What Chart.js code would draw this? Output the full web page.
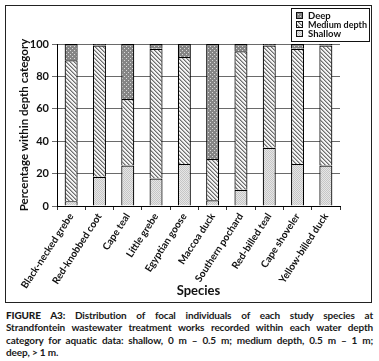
<!DOCTYPE html>
<html>
<head>
<meta charset="utf-8">
<script src="https://cdn.jsdelivr.net/npm/chart.js@4"></script>
<style>
  html, body { margin: 0; padding: 0; background: #fff; }
  body { width: 379px; height: 361px; position: relative; overflow: hidden; font-family: Lato, "Open Sans", sans-serif; }
  #frame { position: absolute; left: 5px; top: 5px; width: 367px; height: 298px; border: 1px solid #222; box-sizing: border-box; }
  #wrap { position: absolute; left: 0; top: 0; width: 365px; height: 296px; }
  #caption { position: absolute; left: 6px; top: 309px; width: 367px; font-size: 10px; line-height: 12.3px; font-weight: 700; color: #1a1a1a; letter-spacing: -0.15px; }
  #caption .ln { text-align: justify; text-align-last: justify; white-space: nowrap; }
  #caption .last { text-align: left; }
  #caption b { font-weight: 900; }
</style>
</head>
<body>
<div id="frame"><div id="wrap"><canvas id="c"></canvas></div></div>
<div id="caption">
  <div class="ln"><b>FIGURE A3:</b> Distribution of focal individuals of each study species at</div>
  <div class="ln">Strandfontein wastewater treatment works recorded within each water depth</div>
  <div class="ln">category for aquatic data: shallow, 0 m – 0.5 m; medium depth, 0.5 m – 1 m;</div>
  <div class="last">deep, &gt; 1 m.</div>
</div>
<script>
const categories = ["Black-necked grebe", "Red-knobbed coot", "Cape teal", "Little grebe", "Egyptian goose", "Maccoa duck", "Southern pochard", "Red-billed teal", "Cape shoveler", "Yellow-billed duck"];
const shallow = [3, 18, 25, 17, 26, 3.5, 10, 36, 26, 25];
const medium  = [87, 81, 41, 80, 66, 25.5, 85.5, 63, 71, 74];
const deep    = [10, 1, 34, 3, 8, 71, 4.5, 1, 3, 1];
const yTicks = [0, 20, 40, 60, 80, 100];

function makePattern(draw, size) {
  const c = document.createElement('canvas');
  c.width = size; c.height = size;
  const g = c.getContext('2d');
  draw(g);
  return g.createPattern(c, 'repeat');
}
const deepPat = makePattern(g => {
  g.fillStyle = '#858585'; g.fillRect(0, 0, 4, 4);
  g.fillStyle = '#d9d9d9'; g.fillRect(0, 0, 1, 1); g.fillRect(2, 2, 1, 1);
}, 4);
const medPat = makePattern(g => {
  g.fillStyle = '#f4f4f4'; g.fillRect(0, 0, 4, 4);
  g.fillStyle = '#6e6e6e';
  for (let i = 0; i < 4; i++) g.fillRect(i, i, 1, 1);
  g.fillStyle = '#b0b0b0';
  for (let i = 0; i < 4; i++) g.fillRect((i + 1) % 4, i, 1, 1);
}, 4);
const shalPat = makePattern(g => {
  g.fillStyle = '#e6e6e6'; g.fillRect(0, 0, 2, 2);
  g.fillStyle = '#c6c6c6'; g.fillRect(0, 0, 1, 1); g.fillRect(1, 1, 1, 1);
}, 2);

const FONT = "Lato, 'Open Sans', sans-serif";

const legendBox = {
  id: 'legendBox',
  afterDraw(chart) {
    const ctx = chart.ctx;
    ctx.save();
    ctx.lineWidth = 1;
    ctx.strokeStyle = '#111';
    ctx.strokeRect(285.5, 2.5, 78, 33);
    const items = chart.data.datasets.slice().reverse();
    ctx.font = "bold 9.5px " + FONT;
    ctx.textBaseline = 'middle';
    items.forEach((ds, i) => {
      const y = 9.5 + i * 9;
      ctx.fillStyle = ds.backgroundColor;
      ctx.fillRect(290, y - 3.5, 7, 7);
      ctx.strokeStyle = '#111';
      ctx.strokeRect(290.5, y - 3, 6, 6);
      ctx.fillStyle = '#111';
      ctx.fillText(ds.label, 302, y + 0.5, 59);
    });
    ctx.restore();
  }
};

new Chart(document.getElementById('c'), {
  type: 'bar',
  data: {
    labels: categories,
    datasets: [
      { label: 'Shallow', data: shallow, backgroundColor: shalPat, borderColor: '#000', borderWidth: 1.2 },
      { label: 'Medium depth', data: medium, backgroundColor: medPat, borderColor: '#000', borderWidth: 1.2 },
      { label: 'Deep', data: deep, backgroundColor: deepPat, borderColor: '#000', borderWidth: 1.2 }
    ]
  },
  options: {
    responsive: true,
    maintainAspectRatio: false,
    animation: false,
    devicePixelRatio: 1,
    layout: { padding: { left: 4, top: 38, right: 31, bottom: 0 } },
    datasets: { bar: { barPercentage: 0.46, categoryPercentage: 1 } },
    plugins: { legend: { display: false }, tooltip: { enabled: false } },
    scales: {
      x: {
        stacked: true,
        afterFit(s) { s.height = 96; },
        border: { display: true, color: '#000', width: 1 },
        grid: { display: true, drawOnChartArea: false, offset: true, tickLength: 4, color: '#333' },
        ticks: {
          autoSkip: false, minRotation: 57, maxRotation: 57, padding: 1,
          color: '#111', font: { family: FONT, size: 10, weight: 'bold' }
        },
        title: { display: true, text: 'Species', color: '#111', font: { family: FONT, size: 13, weight: 'bold' }, padding: { top: 0, bottom: 3 } }
      },
      y: {
        stacked: true,
        min: 0, max: 100,
        afterFit(s) { s.width = 47; },
        afterBuildTicks(s) { s.ticks = yTicks.map(v => ({ value: v })); },
        border: { display: true, color: '#000', width: 1 },
        grid: { color: '#6a6a6a', lineWidth: 1, tickLength: 5, drawTicks: true },
        ticks: { padding: 3, color: '#111', font: { family: FONT, size: 11, weight: 'bold' } },
        title: { display: true, text: 'Percentage within depth category', color: '#111', font: { family: FONT, size: 11.5, weight: 'bold' }, padding: { top: 7, bottom: 0 } }
      }
    }
  },
  plugins: [legendBox]
});
</script>
</body>
</html>
